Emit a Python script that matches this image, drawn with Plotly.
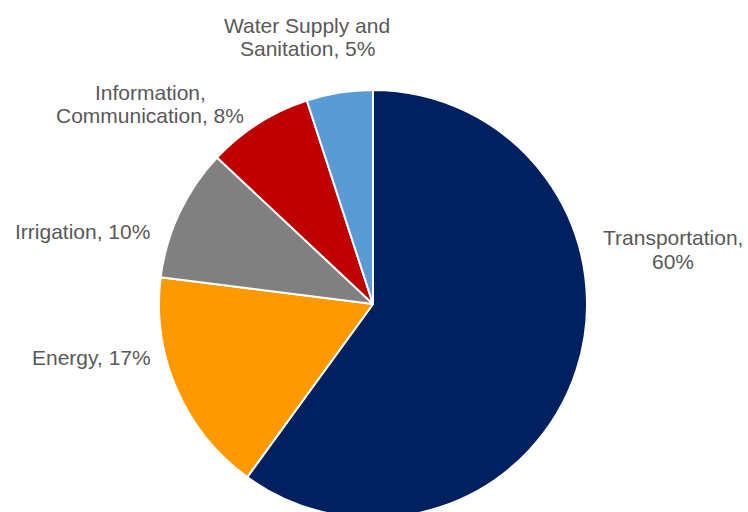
import plotly.graph_objects as go

# Data
categories = ["Transportation", "Energy", "Irrigation",
              "Information, Communication", "Water Supply and Sanitation"]
values = [60, 17, 10, 8, 5]
label_lines = [["Transportation,", "60%"], ["Energy, 17%"], ["Irrigation, 10%"],
               ["Information,", "Communication, 8%"], ["Water Supply and", "Sanitation, 5%"]]
colors = ["#002060", "#FF9900", "#808080", "#C00000", "#5B9BD5"]

W, H = 748, 520
# label first-line centres (px from top-left) -- layout only
label_pos = [(673, 238), (91, 357), (82, 231), (150, 92), (307, 25)]
LINE_GAP = 23.5

fig = go.Figure(go.Pie(
    labels=categories,
    values=values,
    sort=False,
    direction="clockwise",
    rotation=0,
    marker=dict(colors=colors, line=dict(color="white", width=2)),
    textinfo="none",
    hoverinfo="label+percent",
    domain=dict(x=[159 / W, 587 / W], y=[2 / H, 430 / H]),
    showlegend=False,
))

for lines, (px, py) in zip(label_lines, label_pos):
    for i, line in enumerate(lines):
        fig.add_annotation(
            x=px / W, y=1 - (py + i * LINE_GAP) / H, xref="paper", yref="paper",
            text=line, showarrow=False, xanchor="center", yanchor="middle",
            align="center",
            font=dict(family="Liberation Sans, Arial, sans-serif", size=21, color="#595959"),
        )

fig.update_layout(
    width=W, height=H,
    margin=dict(l=0, r=0, t=0, b=0),
    paper_bgcolor="white", plot_bgcolor="white",
    showlegend=False,
)

fig.write_html(
    "out.html",
    config={"displayModeBar": False},
    post_script="document.body.style.margin='0';document.body.style.overflow='hidden';"
                "document.documentElement.style.overflow='hidden';",
)
